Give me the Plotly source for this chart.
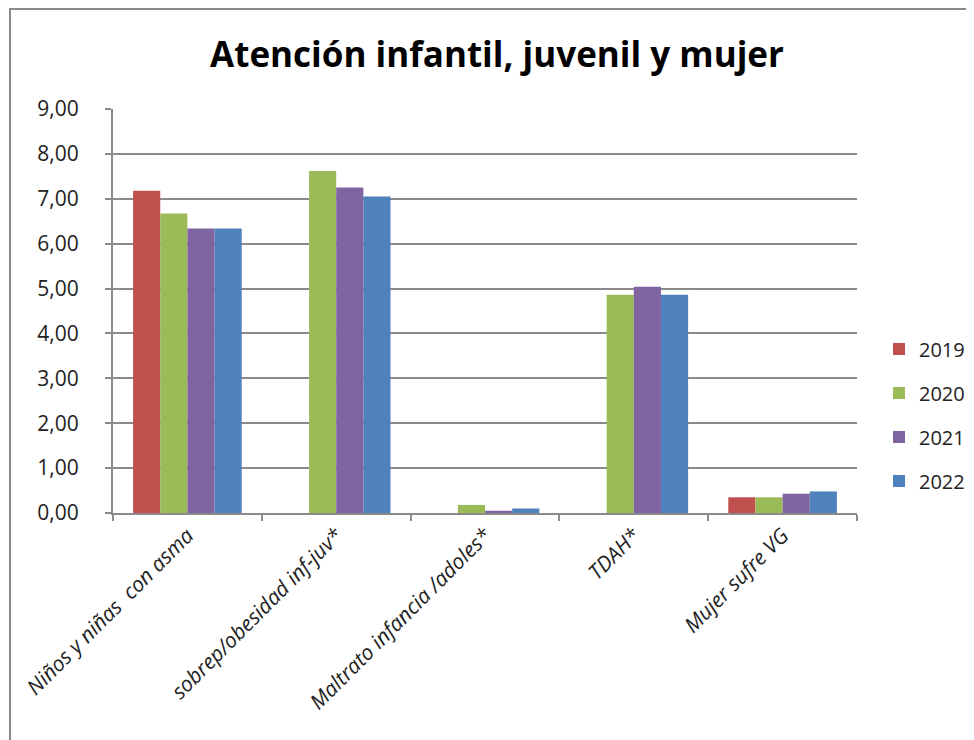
import plotly.graph_objects as go

categories = ["Niños y niñas  con asma", "sobrep/obesidad inf-juv*", "Maltrato infancia /adoles*", "TDAH*", "Mujer sufre VG"]
years = ["2019", "2020", "2021", "2022"]
v2019 = [7.18, None, None, None, 0.35]
v2020 = [6.67, 7.62, 0.18, 4.86, 0.35]
v2021 = [6.34, 7.25, 0.05, 5.04, 0.43]
v2022 = [6.34, 7.05, 0.10, 4.86, 0.48]
series = [v2019, v2020, v2021, v2022]
colors = ["#C0504D", "#9BBB59", "#8064A2", "#4F81BD"]
title_text = "Atención infantil, juvenil y mujer"

fig = go.Figure()
for name, vals, col in zip(years, series, colors):
    fig.add_trace(go.Bar(x=categories, y=vals, name=name, marker_color=col,
                         marker_line_width=0, legendgroup=name))

W, H = 974, 740
OFF = 8  # page body offset
L, T = 113 - OFF, 109 - OFF
R = W - (857 - OFF)
B = H - (513 - OFF)
pw, ph = W - L - R, H - T - B

def px_x(x):
    return (x - OFF - L) / pw

def px_y(y):
    return (513 - y) / ph

fig.update_layout(
    width=W, height=H,
    margin=dict(l=L, r=R, t=T, b=B),
    paper_bgcolor="white", plot_bgcolor="white",
    separators=",.",
    bargap=0.27, bargroupgap=0,
    font=dict(family="Open Sans, sans-serif", color="#222222", size=18),
    title=dict(text="<b>" + title_text + "</b>", x=(497 - OFF) / W,
               xanchor="center", y=1 - (55 - OFF) / H, yanchor="middle",
               font=dict(size=35, color="#000000", family="Open Sans, sans-serif")),
    legend=dict(xref="container", yref="container",
                x=(879 - OFF) / W, xanchor="left", y=1 - (415 - OFF) / H, yanchor="middle",
                traceorder="grouped", tracegroupgap=15,
                font=dict(size=20, color="#222222"), itemwidth=30),
    showlegend=True,
)
fig.update_yaxes(range=[0, 9], dtick=1, tickformat=".2f",
                 showgrid=True, gridcolor="#8a8a8a", gridwidth=2,
                 showline=True, linecolor="#8a8a8a", linewidth=2,
                 ticks="outside", ticklen=6, tickcolor="#8a8a8a", tickwidth=2,
                 ticklabelstandoff=22,
                 tickfont=dict(size=21), zeroline=False)
fig.update_xaxes(showline=True, linecolor="#8a8a8a", linewidth=2,
                 ticks="outside", tickson="boundaries", ticklen=6,
                 tickcolor="#8a8a8a", tickwidth=2, tickangle=-45,
                 tickfont=dict(size=21, style="italic"))

fig.add_shape(type="rect", xref="paper", yref="paper",
              x0=px_x(10), x1=1.3, y0=-0.7, y1=px_y(9),
              line=dict(color="#8a8a8a", width=2), fillcolor="rgba(0,0,0,0)", layer="below")

fig.write_html("out.html")
